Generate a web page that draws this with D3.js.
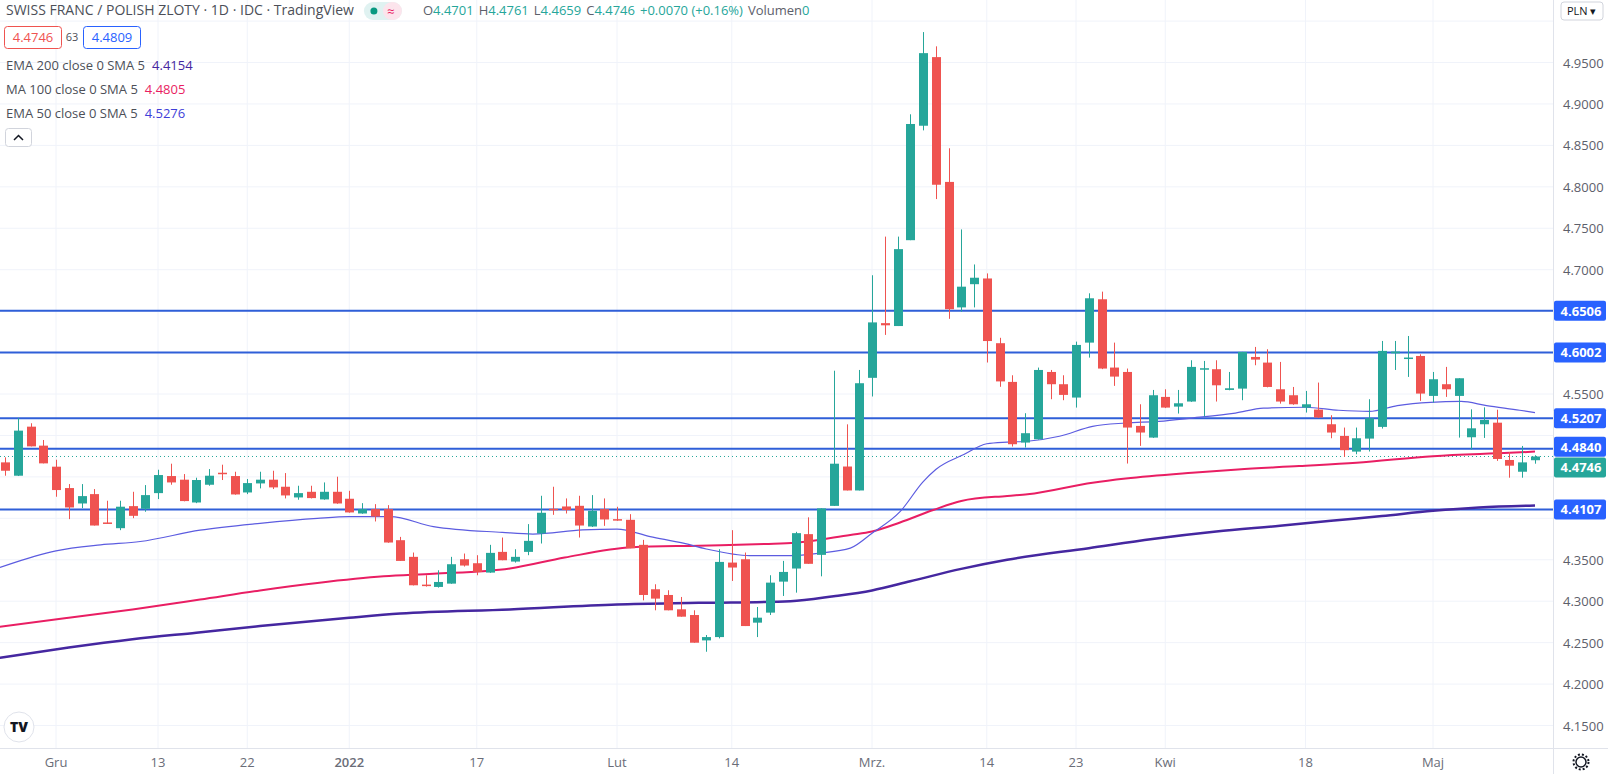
<!DOCTYPE html>
<html>
<head>
<meta charset="utf-8">
<script src="https://cdn.jsdelivr.net/npm/d3@7"></script>
<style>
  body { margin: 0; background: #fff; }
  text { font-family: "Open Sans", "Noto Sans", sans-serif; }
</style>
</head>
<body>
<svg class="chart"></svg>
<script>
let width = 1608,
  height = 774;

// daily candles, 25 Nov 2021 .. 10 May 2022 (weekdays)
let opens = [4.4675,4.4514,4.5106,4.4877,4.4623,4.4365,4.4179,4.4292,4.3950,4.3881,4.4147,4.4115,4.4304,4.4510,4.4466,4.4191,4.4405,4.4550,4.4510,4.4312,
  4.4421,4.4466,4.4381,4.4252,4.4320,4.4228,4.4320,4.4236,4.4058,4.4111,4.4111,4.3736,4.3535,4.3200,4.3172,4.3212,4.3506,4.3458,4.3345,4.3595,
  4.3478,4.3595,4.3817,4.4115,4.4143,4.4151,4.3901,4.4111,4.3990,4.3982,4.3680,4.3144,4.3075,4.2902,4.2833,4.2527,4.2567,4.3466,4.3506,4.2741,
  4.2862,4.3236,4.3394,4.3809,4.3559,4.4150,4.4625,4.4336,4.5695,4.6355,4.6320,4.7356,4.8737,4.9565,4.8059,4.6545,4.6825,4.6894,4.6113,4.5646,
  4.4914,4.4954,4.5766,4.5618,4.5457,4.6120,4.6643,4.5819,4.5766,4.5115,4.4974,4.5465,4.5348,4.5409,4.5799,4.5799,4.5549,4.5565,4.5947,4.5879,
  4.5557,4.5485,4.5336,4.5312,4.5135,4.4994,4.4805,4.4962,4.5103,4.5991,4.5939,4.5959,4.5477,4.5618,4.5477,4.4978,4.5135,4.5154,4.4704,4.4562,4.4701];
let highs = [4.4736,4.5211,4.5147,4.4945,4.4707,4.4413,4.4413,4.4353,4.4212,4.4212,4.4320,4.4401,4.4586,4.4659,4.4534,4.4490,4.4594,4.4647,4.4562,4.4474,
  4.4562,4.4574,4.4546,4.4393,4.4393,4.4433,4.4502,4.4332,4.4183,4.4171,4.4159,4.3776,4.3587,4.3313,4.3373,4.3535,4.3575,4.3555,4.3680,4.3768,
  4.3627,4.3930,4.4272,4.4381,4.4240,4.4272,4.4280,4.4240,4.4139,4.4050,4.3740,4.3204,4.3132,4.3051,4.2890,4.2592,4.3627,4.3857,4.3587,4.2930,
  4.3313,4.3486,4.3837,4.4012,4.4120,4.5781,4.5134,4.5790,4.6933,4.7399,4.7399,4.8875,4.9867,4.9695,4.8465,4.7486,4.7063,4.6955,4.6178,4.5726,
  4.5268,4.5819,4.5790,4.5726,4.6132,4.6715,4.6735,4.6120,4.5807,4.5376,4.5549,4.5557,4.5549,4.5907,4.5899,4.5907,4.5766,4.6008,4.6068,4.6040,
  4.5887,4.5585,4.5537,4.5638,4.5244,4.5095,4.5095,4.5437,4.6140,4.6140,4.6200,4.5979,4.5766,4.5827,4.5690,4.5315,4.5339,4.5310,4.4800,4.4873,4.4761];
let lows = [4.4514,4.4510,4.4868,4.4663,4.4260,4.3990,4.4123,4.3913,4.3935,4.3857,4.4002,4.4079,4.4232,4.4405,4.4205,4.4183,4.4393,4.4462,4.4285,4.4292,
  4.4361,4.4353,4.4240,4.4224,4.4240,4.4224,4.4175,4.4068,4.4055,4.3962,4.3705,4.3486,4.3190,4.3176,4.3164,4.3210,4.3418,4.3313,4.3342,4.3494,
  4.3466,4.3555,4.3696,4.4042,4.4058,4.3768,4.3895,4.3909,4.3970,4.3639,4.3010,4.2890,4.2890,4.2813,4.2499,4.2390,4.2551,4.3244,4.2700,4.2567,
  4.2833,4.3063,4.3103,4.3451,4.3300,4.4150,4.4336,4.4336,4.5470,4.6213,4.6320,4.7356,4.8681,4.7852,4.6407,4.6493,4.6545,4.5880,4.5587,4.4866,
  4.4854,4.4950,4.5437,4.5425,4.5336,4.5939,4.5800,4.5598,4.4661,4.4874,4.4970,4.5330,4.5264,4.5405,4.5228,4.5409,4.5545,4.5425,4.5847,4.5580,
  4.5384,4.5370,4.5276,4.5210,4.4966,4.4741,4.4773,4.4806,4.5083,4.5790,4.5706,4.5417,4.5397,4.5465,4.4974,4.4829,4.4970,4.4693,4.4490,4.4490,4.4659];
let closes = [4.4574,4.5058,4.4868,4.4663,4.4341,4.4131,4.4268,4.3913,4.3938,4.4140,4.4030,4.4280,4.4522,4.4433,4.4208,4.4462,4.4514,4.4538,4.4288,4.4425,
  4.4466,4.4373,4.4276,4.4304,4.4244,4.4320,4.4179,4.4071,4.4111,4.4022,4.3708,4.3486,4.3192,4.3184,4.3232,4.3446,4.3430,4.3353,4.3583,4.3494,
  4.3535,4.3728,4.4067,4.4103,4.4099,4.3913,4.4091,4.3986,4.3974,4.3639,4.3075,4.3031,4.2890,4.2813,4.2499,4.2567,4.3474,4.3406,4.2700,4.2801,
  4.3224,4.3353,4.3821,4.3451,4.4120,4.4659,4.4336,4.5630,4.6364,4.6329,4.7248,4.8758,4.9613,4.8025,4.6523,4.6795,4.6903,4.6139,4.5652,4.4894,
  4.5027,4.5790,4.5618,4.5489,4.6092,4.6655,4.5807,4.5710,4.5095,4.5035,4.5485,4.5336,4.5388,4.5827,4.5811,4.5605,4.5569,4.6008,4.5915,4.5585,
  4.5409,4.5376,4.5376,4.5216,4.5035,4.4822,4.4966,4.5207,4.6020,4.6012,4.5940,4.5505,4.5678,4.5557,4.5690,4.5086,4.5187,4.4716,4.4635,4.4675,4.4746];

// moving averages: [candle index, value]
let ema50 = [[-0.4,4.3406],[2.3,4.354],[4,4.3607],[7.5,4.368],[10.6,4.372],[15.3,4.3857],[20,4.394],[24.5,4.400],[27,4.402],[30.2,4.402],
  [33.6,4.390],[39,4.383],[41.4,4.381],[45.3,4.386],[48,4.387],[50.6,4.378],[53.2,4.370],[55,4.363],[58.4,4.355],[61.6,4.355],[63.9,4.358],
  [66.3,4.364],[68,4.382],[70.2,4.408],[72,4.444],[73,4.459],[75.2,4.477],[77,4.490],[78.6,4.492],[80.2,4.493],[82.7,4.499],[85.3,4.511],
  [87.9,4.515],[90.5,4.517],[93.1,4.521],[96.5,4.527],[98.7,4.533],[102,4.534],[104.6,4.5304],[107,4.529],[109.2,4.536],[111.8,4.540],
  [114.2,4.541],[116.2,4.536],[118.8,4.5304],[120,4.5276]];
let ma100 = [[-0.4,4.2692],[5,4.280],[10,4.290],[15.3,4.302],[20,4.313],[24.5,4.322],[29.7,4.330],[33.6,4.333],[39.6,4.3395],[43.9,4.3527],
  [49.2,4.365],[54.4,4.367],[59.6,4.369],[62,4.3704],[66.3,4.380],[68,4.384],[70.2,4.395],[72.8,4.410],[75,4.421],[78.6,4.427],[80.2,4.429],
  [85.3,4.443],[87.9,4.448],[93.1,4.455],[96.7,4.459],[101.5,4.463],[106,4.467],[112,4.475],[118,4.479],[120,4.4805]];
let ema200 = [[-0.4,4.2317],[5,4.244],[10,4.254],[15,4.262],[20,4.270],[27,4.280],[31,4.285],[39.6,4.290],[48,4.296],[54.4,4.298],
  [61.6,4.300],[65,4.306],[68,4.313],[71,4.324],[75,4.339],[78.6,4.350],[85,4.364],[90,4.375],[95,4.384],[100,4.391],[104,4.397],
  [108,4.4028],[112,4.409],[115.6,4.413],[120,4.4154]];

let levels = [4.6506, 4.6002, 4.5207, 4.4840, 4.4107];
let lastPrice = 4.4746;

let yTicks = [4.15,4.20,4.25,4.30,4.35,4.40,4.45,4.50,4.55,4.60,4.65,4.70,4.75,4.80,4.85,4.90,4.95,5.00];
let xTickIdx = [4, 12, 19, 27, 37, 48, 57, 68, 77, 84, 91, 102, 112];
let xTickText = ["Gru", "13", "22", "2022", "17", "Lut", "14", "Mrz.", "14", "23", "Kwi", "18", "Maj"];

let plotRight = 1553,
  plotBottom = 748;

let x = d3.scaleLinear().domain([0, 120]).range([5, 1535]);
let y = d3.scaleLinear().domain([4.15, 4.55]).range([725.5, 394]);

let svg = d3.select(".chart").attr("width", width).attr("height", height);

// grid
svg.append("g").selectAll("line").data(yTicks).enter().append("line")
  .attr("x1", 0).attr("x2", plotRight)
  .attr("y1", (d) => y(d)).attr("y2", (d) => y(d))
  .attr("stroke", "#f0f3fa");
svg.append("g").selectAll("line").data(xTickIdx).enter().append("line")
  .attr("x1", (d) => x(d)).attr("x2", (d) => x(d))
  .attr("y1", 0).attr("y2", plotBottom)
  .attr("stroke", "#f0f3fa");

let plot = svg.append("g");
plot.append("clipPath").attr("id", "clip").append("rect")
  .attr("width", plotRight).attr("height", plotBottom);
plot.attr("clip-path", "url(#clip)");

// horizontal levels
plot.selectAll(".level").data(levels).enter().append("line")
  .attr("x1", 0).attr("x2", plotRight)
  .attr("y1", (d) => y(d)).attr("y2", (d) => y(d))
  .attr("stroke", "#2f5fd8").attr("stroke-width", 2);

plot.append("line")
  .attr("x1", 0).attr("x2", plotRight)
  .attr("y1", y(lastPrice)).attr("y2", y(lastPrice))
  .attr("stroke", "#26a69a").attr("stroke-dasharray", "1,3");

// moving averages
let line = d3.line().x((d) => x(d[0])).y((d) => y(d[1])).curve(d3.curveMonotoneX);
plot.append("path").attr("d", line(ema200)).attr("fill", "none").attr("stroke", "#4527a0").attr("stroke-width", 2.5);
plot.append("path").attr("d", line(ma100)).attr("fill", "none").attr("stroke", "#e91e63").attr("stroke-width", 2);
plot.append("path").attr("d", line(ema50)).attr("fill", "none").attr("stroke", "#5c5ce0").attr("stroke-width", 1.2);

// candles
let candles = d3.range(opens.length).map((i) => ({
  i: i, o: opens[i], h: highs[i], l: lows[i], c: closes[i]
}));
let col = (d) => (d.c >= d.o ? "#26a69a" : "#ef5350");

let cg = plot.selectAll(".candle").data(candles).enter().append("g");
cg.append("line")
  .attr("x1", (d) => Math.round(x(d.i)) + 0.5).attr("x2", (d) => Math.round(x(d.i)) + 0.5)
  .attr("y1", (d) => y(d.h)).attr("y2", (d) => y(d.l))
  .attr("stroke", col);
cg.append("rect")
  .attr("x", (d) => Math.round(x(d.i)) - 4)
  .attr("width", 9)
  .attr("y", (d) => y(Math.max(d.o, d.c)))
  .attr("height", (d) => Math.max(1.5, Math.abs(y(d.o) - y(d.c))))
  .attr("fill", col);

// axes frame
svg.append("line").attr("x1", plotRight + 0.5).attr("x2", plotRight + 0.5)
  .attr("y1", 0).attr("y2", height).attr("stroke", "#e0e3eb");
svg.append("line").attr("x1", 0).attr("x2", width)
  .attr("y1", plotBottom + 0.5).attr("y2", plotBottom + 0.5).attr("stroke", "#e0e3eb");

// price tags (two lowest-spaced ones pushed apart like the platform does)
let tags = levels.map((v) => ({ v: v, c: "#2962ff", dy: 0 })).concat([{ v: lastPrice, c: "#26a69a", dy: 0 }]);
tags[3].dy = -2;
tags[5].dy = 11;
let tagY = (d) => y(d.v) + d.dy;

// y axis labels, skipping the ones hidden behind a tag or the currency box
let freeTicks = yTicks.filter((t) => y(t) > 24 && tags.every((g) => Math.abs(tagY(g) - y(t)) > 14));
svg.append("g").selectAll("text").data(freeTicks).enter().append("text")
  .attr("x", 1563).attr("y", (d) => y(d) + 5)
  .attr("font-size", 13).attr("fill", "#5d606b")
  .text((d) => d.toFixed(4));

// x axis labels
svg.append("g").selectAll("text").data(xTickIdx).enter().append("text")
  .attr("x", (d) => x(d)).attr("y", 767)
  .attr("text-anchor", "middle").attr("font-size", 13).attr("fill", "#6a6d78")
  .attr("font-weight", (d, i) => (xTickText[i] == "2022" ? 600 : 400))
  .text((d, i) => xTickText[i]);

let tg = svg.append("g").selectAll("g").data(tags).enter().append("g")
  .attr("transform", (d) => "translate(" + (plotRight + 1) + "," + (tagY(d) - 10) + ")");
tg.append("rect").attr("width", 52).attr("height", 20).attr("rx", 2).attr("fill", (d) => d.c);
tg.append("text").attr("x", 27).attr("y", 15).attr("text-anchor", "middle")
  .attr("font-size", 13).attr("font-weight", 700).attr("fill", "#fff")
  .text((d) => d.v.toFixed(4));

// currency box
svg.append("rect").attr("x", 1561).attr("y", 2).attr("width", 42).attr("height", 18).attr("rx", 3)
  .attr("fill", "#fff").attr("stroke", "#d1d4dc");
svg.append("text").attr("x", 1567).attr("y", 15).attr("font-size", 11).attr("fill", "#131722").text("PLN ▾");

// gear
svg.append("circle").attr("cx", 1581).attr("cy", 762).attr("r", 5)
  .attr("fill", "none").attr("stroke", "#131722").attr("stroke-width", 1.5);
svg.append("circle").attr("cx", 1581).attr("cy", 762).attr("r", 7.5)
  .attr("fill", "none").attr("stroke", "#131722").attr("stroke-width", 2).attr("stroke-dasharray", "2,2");

// watermark logo
svg.append("circle").attr("cx", 19).attr("cy", 727).attr("r", 15).attr("fill", "#fff")
  .attr("stroke", "#e0e3eb");
svg.append("text").attr("x", 19).attr("y", 732).attr("text-anchor", "middle")
  .attr("font-size", 14).attr("font-weight", 800).attr("fill", "#131722").text("TV");

// legend
let head = svg.append("g");
let title = head.append("text").attr("x", 6).attr("y", 15).attr("font-size", 14).attr("fill", "#4c4f58")
  .text("SWISS FRANC / POLISH ZLOTY · 1D · IDC · TradingView");
let tx = title.node().getComputedTextLength() + 16;
head.append("rect").attr("x", tx).attr("y", 2).attr("width", 38).attr("height", 18).attr("rx", 9).attr("fill", "#e0f2f1");
head.append("rect").attr("x", tx + 19).attr("y", 2).attr("width", 19).attr("height", 18).attr("rx", 9).attr("fill", "#fce4ec");
head.append("circle").attr("cx", tx + 10).attr("cy", 11).attr("r", 3.5).attr("fill", "#089981");
head.append("text").attr("x", tx + 23).attr("y", 16).attr("font-size", 13).attr("fill", "#e91e63").text("≈");

let ohlc = head.append("text").attr("x", tx + 54).attr("y", 15).attr("font-size", 13);
[["O", "4.4701"], ["H", "4.4761"], ["L", "4.4659"], ["C", "4.4746"]].forEach((p) => {
  ohlc.append("tspan").attr("fill", "#5d606b").attr("dx", 5).text(p[0]);
  ohlc.append("tspan").attr("fill", "#26a69a").text(p[1]);
});
ohlc.append("tspan").attr("fill", "#26a69a").attr("dx", 5).text("+0.0070 (+0.16%)");
ohlc.append("tspan").attr("fill", "#5d606b").attr("dx", 5).text("Volumen");
ohlc.append("tspan").attr("fill", "#26a69a").text("0");

head.append("rect").attr("x", 4.5).attr("y", 26.5).attr("width", 57).attr("height", 22).attr("rx", 3)
  .attr("fill", "#fff").attr("stroke", "#ef5350");
head.append("text").attr("x", 33).attr("y", 42).attr("text-anchor", "middle").attr("font-size", 13).attr("fill", "#ef5350").text("4.4746");
head.append("text").attr("x", 72).attr("y", 41).attr("text-anchor", "middle").attr("font-size", 11).attr("fill", "#4c4f58").text("63");
head.append("rect").attr("x", 83.5).attr("y", 26.5).attr("width", 57).attr("height", 22).attr("rx", 3)
  .attr("fill", "#fff").attr("stroke", "#2962ff");
head.append("text").attr("x", 112).attr("y", 42).attr("text-anchor", "middle").attr("font-size", 13).attr("fill", "#2962ff").text("4.4809");

let legendRows = [["EMA 200 close 0 SMA 5", "4.4154", "#4527a0"], ["MA 100 close 0 SMA 5", "4.4805", "#e91e63"], ["EMA 50 close 0 SMA 5", "4.5276", "#3f3fd8"]];
legendRows.forEach((r, i) => {
  let t = head.append("text").attr("x", 6).attr("y", 70 + i * 24).attr("font-size", 13);
  t.append("tspan").attr("fill", "#4c4f58").text(r[0]);
  t.append("tspan").attr("fill", r[2]).attr("dx", 7).text(r[1]);
});
head.append("rect").attr("x", 5.5).attr("y", 128.5).attr("width", 26).attr("height", 18).attr("rx", 3)
  .attr("fill", "#fff").attr("stroke", "#d1d4dc");
head.append("path").attr("d", "M14,140 L18.5,135.5 L23,140").attr("fill", "none").attr("stroke", "#131722").attr("stroke-width", 1.5);
</script>
</body>
</html>
